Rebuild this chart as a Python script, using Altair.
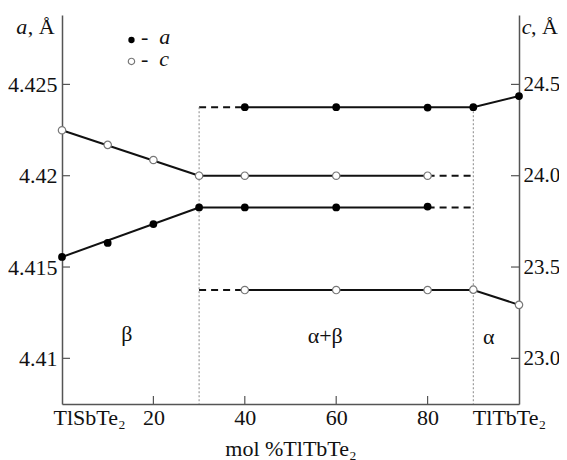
import altair as alt
import pandas as pd

# ---------------- data ----------------
# lattice parameter a (filled points), Angstrom
a_low_x = [0, 10, 20, 30, 40, 60, 80]
a_low_y = [4.41555, 4.41632, 4.41735, 4.41826, 4.41826, 4.41826, 4.41831]
a_up_x = [40, 60, 80, 90, 100]
a_up_y = [4.42375, 4.42375, 4.42373, 4.42375, 4.42436]

# lattice parameter c (open points), Angstrom
c_up_x = [0, 10, 20, 30, 40, 60, 80]
c_up_y = [24.249, 24.169, 24.086, 24.0, 24.0, 24.0, 24.0]
c_low_x = [40, 60, 80, 90, 100]
c_low_y = [23.374, 23.374, 23.374, 23.376, 23.293]

# drawn lines (segment id, x, y)
a_solid_seg = ["b", "b", "ab", "ab", "u", "u", "u"]
a_solid_x = [0, 30, 30, 80, 40, 90, 100]
a_solid_y = [4.41555, 4.41826, 4.41826, 4.41826, 4.42375, 4.42375, 4.42436]
a_dash_seg = ["l", "l", "u", "u"]
a_dash_x = [80, 90, 30, 40]
a_dash_y = [4.41826, 4.41826, 4.42375, 4.42375]

c_solid_seg = ["b", "b", "ab", "ab", "l", "l", "l"]
c_solid_x = [0, 30, 30, 80, 40, 90, 100]
c_solid_y = [24.249, 24.0, 24.0, 24.0, 23.374, 23.374, 23.293]
c_dash_seg = ["u", "u", "l", "l"]
c_dash_x = [80, 90, 30, 40]
c_dash_y = [24.0, 24.0, 23.374, 23.374]

# phase boundaries
bound_x = [30, 90]
bound_top = [4.42375, 4.42375]

# axes
x_ticks = [0, 20, 40, 60, 80, 100]
a_ticks = [4.41, 4.415, 4.42, 4.425]
c_ticks = [23.0, 23.5, 24.0, 24.5]
a_domain = [4.4075, 4.4288]
c_domain = [22.75, 24.88]

# region labels
region_text = ["β", "α+β", "α"]
region_x = [14.2, 57.6, 93.4]
region_y = [4.41132, 4.41121, 4.41115]

# ---------------- chart ----------------
W, H = 457, 389
FONT = "Liberation Serif"
FS = 22
INK = "#111111"
AXC = "#555555"

xs = alt.Scale(domain=[0, 100], nice=False, zero=False)
ys_a = alt.Scale(domain=a_domain, nice=False, zero=False)
ys_c = alt.Scale(domain=c_domain, nice=False, zero=False)

x_axis = alt.Axis(
    values=x_ticks,
    labelExpr="datum.value == 0 ? 'TlSbTe₂' : datum.value == 100 ? 'TlTbTe₂' : datum.label",
    ticks=False, tickSize=0, grid=False,
    domainColor=AXC, domainWidth=1.5,
    labelFont=FONT, labelFontSize=FS, labelColor=INK, labelPadding=3,
    labelFlush=False, labelOverlap=False,
    labelOffset={"condition": [{"test": "datum.value == 0", "value": 27},
                               {"test": "datum.value == 100", "value": -10}],
                 "value": 0},
    title="mol %TlTbTe₂", titleFont=FONT, titleFontSize=FS,
    titleFontWeight="normal", titleColor=INK, titlePadding=10,
)
a_axis = alt.Axis(
    orient="left", values=a_ticks, format=".3~f", ticks=False, tickSize=0,
    grid=False, domainColor=AXC, domainWidth=1.5,
    labelFont=FONT, labelFontSize=FS, labelColor=INK, labelPadding=5,
    title=None,
)
c_axis = alt.Axis(
    orient="right", values=c_ticks, format=".1f", ticks=False, tickSize=0,
    grid=False, domainColor=AXC, domainWidth=1.5,
    labelFont=FONT, labelFontSize=21, labelColor=INK, labelPadding=4,
    title=None,
)

X = alt.X("x:Q", scale=xs, axis=x_axis)
YA = alt.Y("y:Q", scale=ys_a, axis=a_axis)
YC = alt.Y("y:Q", scale=ys_c, axis=c_axis)

df_a_solid = pd.DataFrame({"seg": a_solid_seg, "x": a_solid_x, "y": a_solid_y})
df_a_dash = pd.DataFrame({"seg": a_dash_seg, "x": a_dash_x, "y": a_dash_y})
df_c_solid = pd.DataFrame({"seg": c_solid_seg, "x": c_solid_x, "y": c_solid_y})
df_c_dash = pd.DataFrame({"seg": c_dash_seg, "x": c_dash_x, "y": c_dash_y})
df_a_pts = pd.DataFrame({"x": a_low_x + a_up_x, "y": a_low_y + a_up_y})
df_c_pts = pd.DataFrame({"x": c_up_x + c_low_x, "y": c_up_y + c_low_y})
df_bound = pd.DataFrame({"x": bound_x, "y": bound_top, "y2": [a_domain[0]] * len(bound_x)})
df_region = pd.DataFrame({"x": region_x, "y": region_y, "t": region_text})

# --- left (a) layer ---
a_solid = alt.Chart(df_a_solid).mark_line(color=INK, strokeWidth=2).encode(
    x=X, y=YA, detail="seg:N")
a_dash = alt.Chart(df_a_dash).mark_line(color=INK, strokeWidth=2, strokeDash=[7, 5]).encode(
    x=X, y=YA, detail="seg:N")
bounds = alt.Chart(df_bound).mark_rule(color="#888888", strokeWidth=1, strokeDash=[2, 2]).encode(
    x=X, y=YA, y2="y2:Q")
a_pts = alt.Chart(df_a_pts).mark_point(filled=True, color="#000000", size=60, opacity=1).encode(
    x=X, y=YA)

x_tick_rules = alt.Chart(pd.DataFrame({"x": x_ticks[1:-1]})).mark_rule(
    color=AXC, strokeWidth=1.2).encode(x=X, y=alt.value(H), y2=alt.value(H - 8))
a_tick_rules = alt.Chart(pd.DataFrame({"y": a_ticks})).mark_rule(
    color=AXC, strokeWidth=1.2).encode(y=YA, x=alt.value(0), x2=alt.value(8))

regions = alt.Chart(df_region).mark_text(
    font=FONT, fontSize=FS, color=INK, baseline="middle", align="center").encode(
    x=X, y=YA, text="t:N")

# legend and axis titles (placed in data coordinates)
leg_pts = alt.Chart(pd.DataFrame({"x": [15.2], "y": [4.42743]})).mark_point(
    filled=True, color="#000000", size=40, opacity=1).encode(x=X, y=YA)
leg_open = alt.Chart(pd.DataFrame({"x": [15.2], "y": [4.42626]})).mark_point(
    filled=True, fill="white", stroke="#777777", strokeWidth=1.2, size=40, opacity=1).encode(x=X, y=YA)
txt_plain = alt.Chart(pd.DataFrame({
    "x": [17.3, 17.3, -7.5, 102.6],
    "y": [4.4272, 4.42601, 4.42775, 4.42775],
    "t": ["-", "-", ", Å", ", Å"]})).mark_text(
    font=FONT, fontSize=FS, color=INK, align="left", baseline="alphabetic").encode(
    x=X, y=YA, text="t:N")
txt_ital = alt.Chart(pd.DataFrame({
    "x": [21.3, 21.3, -10.0, 100.6],
    "y": [4.4272, 4.42601, 4.42775, 4.42775],
    "t": ["a", "c", "a", "c"]})).mark_text(
    font=FONT, fontSize=FS, fontStyle="italic", color=INK, align="left",
    baseline="alphabetic").encode(x=X, y=YA, text="t:N")

left = alt.layer(a_solid, a_dash, bounds, x_tick_rules, a_tick_rules, a_pts,
                 regions, leg_pts, leg_open, txt_plain, txt_ital)

# --- right (c) layer ---
c_solid = alt.Chart(df_c_solid).mark_line(color=INK, strokeWidth=2).encode(
    x=X, y=YC, detail="seg:N")
c_dash = alt.Chart(df_c_dash).mark_line(color=INK, strokeWidth=2, strokeDash=[7, 5]).encode(
    x=X, y=YC, detail="seg:N")
c_tick_rules = alt.Chart(pd.DataFrame({"y": c_ticks})).mark_rule(
    color=AXC, strokeWidth=1.2).encode(y=YC, x=alt.value(W - 8), x2=alt.value(W))
c_pts = alt.Chart(df_c_pts).mark_point(
    filled=True, fill="white", stroke="#777777", strokeWidth=1.2, size=55, opacity=1).encode(
    x=X, y=YC)

right = alt.layer(c_solid, c_dash, c_tick_rules, c_pts)

chart = alt.layer(left, right).resolve_scale(y="independent").properties(
    width=W, height=H,
    autosize=alt.AutoSizeParams(type="none"),
    padding={"left": 54, "top": 7, "right": 40, "bottom": 60},
    background="white",
).configure_view(stroke=None)

chart.save("out.html", embed_options={"renderer": "svg", "actions": False})
